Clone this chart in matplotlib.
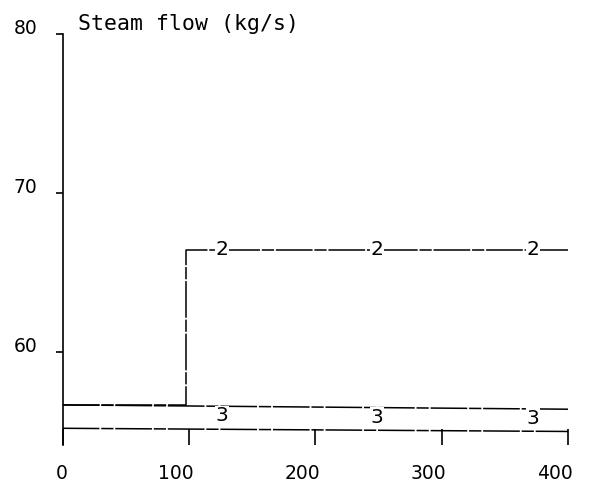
import matplotlib
matplotlib.use("Agg")
import matplotlib.pyplot as plt
from matplotlib.transforms import ScaledTranslation

# time axis (s) and steam flow (kg/s)
x_base = [0, 400]
flow_1 = [55.2, 55.0]          # bottom, unlabelled curve
flow_3 = [56.67, 56.4]

x_2 = [0, 97.6, 97.6, 400]
flow_2 = [56.67, 56.67, 66.42, 66.42]

label_x = [126, 249, 372]      # where the curve numbers are written
x_ticks = [0, 100, 200, 300, 400]
y_ticks = [60, 70, 80]

fig = plt.figure(figsize=(5.9, 4.86), dpi=100)
ax = fig.add_axes([0.1063, 0.0844, 0.8564, 0.8457])

dash = (0, (24, 1.2, 8, 1.2))
ax.plot(x_base, flow_1, color="black", lw=1.1, linestyle=dash)
ax.plot(x_base, flow_3, color="black", lw=1.1, linestyle=dash)
ax.plot(x_2, flow_2, color="black", lw=1.1, linestyle=dash)

y2 = flow_2[-1]
for xl in label_x:
    ax.text(xl, y2, "2", fontsize=14.5, ha="center", va="center",
            bbox=dict(facecolor="white", edgecolor="none", pad=0.5))
for xl in label_x:
    y3 = flow_3[0] + (flow_3[1] - flow_3[0]) * xl / 400
    ax.text(xl, y3, "3", fontsize=14.5, ha="center", va="top",
            bbox=dict(facecolor="white", edgecolor="none", pad=0.5))

ax.set_xlim(0, 400)
ax.set_ylim(54.15, 80)
for side in ["top", "right", "bottom"]:
    ax.spines[side].set_visible(False)
ax.spines["left"].set_linewidth(1.2)

ax.set_xticks(x_ticks)
ax.set_yticks(y_ticks)
ax.tick_params(axis="x", direction="in", length=11.5, width=1.2, pad=14,
               labelsize=13.5)
ax.tick_params(axis="y", direction="out", length=5, width=1.2, pad=13.5,
               labelsize=13.5)
for lab in ax.get_yticklabels():
    lab.set_verticalalignment("baseline")
shift = ScaledTranslation(5 / 100, 0, fig.dpi_scale_trans)
for lab in ax.get_xticklabels():
    lab.set_horizontalalignment("right")
    lab.set_transform(lab.get_transform() + shift)

fig.text(0.132, 0.938, "Steam flow (kg/s)", fontsize=15.5,
         family="DejaVu Sans Mono", va="baseline", ha="left")

fig.savefig("out.png", dpi=100)
